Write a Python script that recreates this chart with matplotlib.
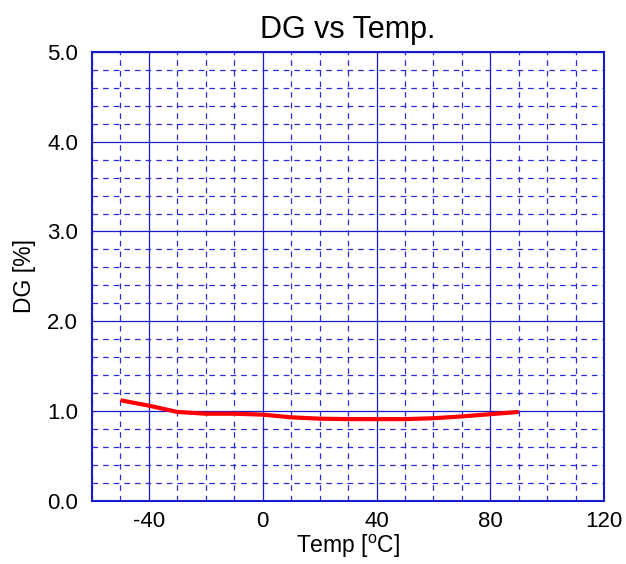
import matplotlib
matplotlib.use("Agg")
import matplotlib.pyplot as plt
from matplotlib.ticker import MultipleLocator

plt.rcParams['font.family'] = ['Liberation Sans', 'DejaVu Sans']
plt.rcParams['mathtext.fontset'] = 'custom'
plt.rcParams['mathtext.rm'] = 'Liberation Sans'
plt.rcParams['axes.unicode_minus'] = False

# DG curve
temp = [-50, -40, -30, -20, -10, 0, 10, 20, 30, 40, 50, 60, 70, 80, 90]
dg = [1.12, 1.06, 0.99, 0.97, 0.97, 0.96, 0.93, 0.915, 0.91, 0.91, 0.91, 0.92, 0.94, 0.965, 0.99]

x_ticks = [-40, 0, 40, 80, 120]
y_ticks = [0.0, 1.0, 2.0, 3.0, 4.0, 5.0]

grid_blue = '#1a1acc'

fig = plt.figure(figsize=(6.26, 5.64), dpi=100)
ax = fig.add_axes([0.147, 0.112, 0.818, 0.796])

ax.plot(temp, dg, color='#ff0000', lw=3.0, solid_capstyle='butt', zorder=3)

ax.set_xlim(-60, 120)
ax.set_ylim(0, 5)
ax.set_xticks(x_ticks)
ax.set_yticks(y_ticks)
ax.set_yticklabels([f'{v:.1f}' for v in y_ticks])
ax.xaxis.set_minor_locator(MultipleLocator(10))
ax.yaxis.set_minor_locator(MultipleLocator(0.2))

ax.grid(which='major', color=grid_blue, lw=0.9, ls='-')
ax.grid(which='minor', color='#2a2ae0', lw=0.9, ls=(0, (4.5, 4)))
ax.tick_params(which='both', length=0, labelsize=16)
ax.tick_params(axis='y', pad=10)
ax.tick_params(axis='x', pad=7)

for s in ax.spines.values():
    s.set_color(grid_blue)
    s.set_linewidth(1.5)

ax.set_title('DG vs Temp.', fontsize=22, pad=10)
ax.set_xlabel('Temp [$^\\mathrm{o}$C]', fontsize=16.5, labelpad=1)
ax.set_ylabel('DG [%]', fontsize=16.5, labelpad=8)

fig.savefig('out.png', dpi=100)
